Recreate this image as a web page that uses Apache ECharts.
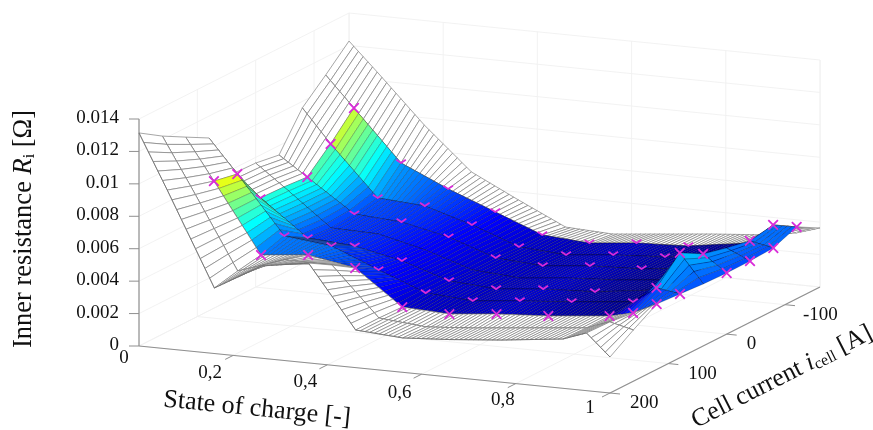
<!DOCTYPE html>
<html><head><meta charset="utf-8">
<style>html,body{margin:0;padding:0;background:#fff}#c{width:873px;height:430px}</style>
<script src="https://cdn.jsdelivr.net/npm/echarts@6/dist/echarts.min.js"></script>
</head><body><div id="c"></div>
<script>
// State of charge nodes, current nodes
const SOC = [0,.06,.16,.26,.36,.46,.56,.66,.77,.9,.95,1];
const CUR = [200,160,120,80,40,0,-40,-80,-120,-160];
// Inner resistance [mOhm] per current row, one value per SOC node
const R_p200 = [13.14,9.79,4.04,5.69,6.16,2.32,2.12,2.31,2.60,3.04,3.56,2.22];
const R_p160 = [12.22,9.31,4.36,5.33,5.31,2.33,2.07,2.29,2.61,2.99,3.51,3.16];
const R_p120 = [11.43,8.89,4.62,4.91,4.40,2.28,2.14,2.43,2.63,3.00,3.34,4.03];
const R_p80  = [10.65,8.60,5.07,4.74,3.55,2.42,2.22,2.51,2.77,3.15,4.16,3.93];
const R_p40  = [7.70,6.40,4.22,4.01,3.38,2.44,2.23,2.52,2.66,3.16,5.59,3.82];
const R_0    = [7.65,6.35,4.11,4.03,3.33,2.39,2.18,2.47,2.67,3.05,4.80,3.77];
const R_m40  = [7.42,6.23,4.24,4.04,3.40,2.40,2.20,2.49,2.62,3.06,4.44,3.78];
const R_m80  = [9.60,7.55,4.51,4.30,3.42,2.36,2.15,2.44,2.64,3.08,4.15,3.86];
const R_m120 = [10.90,9.04,5.94,4.63,3.50,2.37,2.16,2.45,2.59,3.15,4.41,4.43];
const R_m160 = [12.27,10.53,7.55,4.95,3.51,2.13,1.99,2.28,2.60,2.92,3.19,3.64];
const RMAP = [R_p200,R_p160,R_p120,R_p80,R_p40,R_0,R_m40,R_m80,R_m120,R_m160];
// Colour value shift per SOC node
const COLOR_SHIFT = [0,0,-.5,-.6,-.4,.1,.1,0,-.6,-1.3,0,0];
// Measured points: 0 unseen, 1 half hidden by the surface, 2 fully visible (SOC nodes 1..11)
const M_p120 = [2,2,2,2,2,2,2,2,2,2,2];
const M_p80  = [2,1,1,1,1,1,1,1,1,2,2];
const M_p40  = [1,1,1,1,1,1,1,1,0,2,0];
const M_0    = [0,0,0,0,0,0,0,0,0,2,2];
const M_m40  = [2,1,1,1,1,1,1,1,0,0,2];
const M_m80  = [2,1,1,1,1,1,1,1,0,2,2];
const M_m120 = [2,1,1,1,1,1,1,1,0,2,2];
const MARKS = [M_p120,M_p80,M_p40,M_0,M_m40,M_m80,M_m120];
// Axis ticks
const Z_TICKS = [0,.002,.004,.006,.008,.01,.012,.014];
const Z_LABELS = ['0','0.002','0.004','0.006','0.008','0.01','0.012','0.014'];
const S_TICKS = [0,.2,.4,.6,.8,1];
const S_LABELS = ['0','0,2','0,4','0,6','0,8','1'];
const C_TICKS = [200,100,0,-100];
const C_LABELS = ['200','100','0','-100'];

const SOC_STEP = 0.01, C_MAX = 200, C_MIN = -160, Z_MAX = 0.014;
const CLIM = [1.5, 13.2];
const FONT = '"Liberation Serif","Times New Roman",serif';
const S_LABEL_OFFSETS = [[-15,12],[-23,18],[-22,17],[-22,19],[-13,16],[-20,15]];

function project(s,c,z){
  const t=(C_MAX-c)/(C_MAX-C_MIN);
  return [139+471*s+210*t, 346+47*s-106*t-227*z/Z_MAX];
}
function nodeAt(s){ let i=0; while(i<SOC.length-2 && s>SOC[i+1]+1e-9) i++; return i; }
function rAt(s,ci){
  const row=RMAP[ci], i=nodeAt(s);
  const f=(s-SOC[i])/(SOC[i+1]-SOC[i]);
  return (row[i]+(row[i+1]-row[i])*f)/1000;
}
function shiftAt(s){
  const i=nodeAt(s), f=(s-SOC[i])/(SOC[i+1]-SOC[i]);
  return COLOR_SHIFT[i]+(COLOR_SHIFT[i+1]-COLOR_SHIFT[i])*f;
}
function jet(t){
  const k=v=>Math.round(255*Math.max(0,Math.min(1,v)));
  return 'rgb('+k(1.5-Math.abs(4*t-3))+','+k(1.5-Math.abs(4*t-2))+','+k(1.5-Math.abs(4*t-1))+')';
}
// surface quads, back to front: [s0,s1,rowFar,rowNear]
const quads=[];
const nS=Math.round(1/SOC_STEP);
for(let i=0;i<nS;i++){ for(let r=CUR.length-1;r>0;r--){ quads.push([i*SOC_STEP,(i+1)*SOC_STEP,r,r-1]); } }
function renderQuad(params,api){
  const s0=api.value(0),s1=api.value(1),r1=api.value(2),r0=api.value(3);
  const z=[rAt(s0,r1),rAt(s1,r1),rAt(s1,r0),rAt(s0,r0)];
  const pts=[[s0,r1,z[0]],[s1,r1,z[1]],[s1,r0,z[2]],[s0,r0,z[3]]].map(p=>api.coord(project(p[0],CUR[p[1]],p[2])));
  const coloured=s0>=.06-1e-9 && CUR[r0]<=120 && CUR[r1]>=-120;
  const mean=(z[0]+z[1]+z[2]+z[3])/4*1000+shiftAt((s0+s1)/2);
  return {type:'group',children:[
    {type:'polygon',shape:{points:pts},style:{
      fill:coloured?jet((mean-CLIM[0])/(CLIM[1]-CLIM[0])):'#fff',
      stroke:coloured?'rgba(0,0,0,.42)':'#808080',lineWidth:coloured?.5:.7}},
    {type:'line',shape:{x1:pts[2][0],y1:pts[2][1],x2:pts[3][0],y2:pts[3][1]},
      style:{stroke:coloured?'rgba(0,0,30,.55)':'#666',lineWidth:.7}}
  ]};
}
// measured markers
const markers=[];
MARKS.forEach((row,ri)=>row.forEach((k,si)=>{ if(k) markers.push([SOC[si+1],ri+2,k]); }));
function renderMarker(params,api){
  const s=api.value(0),r=api.value(1),k=api.value(2);
  const p=api.coord(project(s,CUR[r],rAt(s,r)));
  const st={stroke:'#d92bd9',lineWidth:1.8,fill:null};
  const a=4.8,h=k===2?4.8:3.2;
  const kids=[{type:'polyline',shape:{points:[[p[0]-a,p[1]-h],[p[0],p[1]],[p[0]+a,p[1]-h]]},style:st}];
  if(k===2) kids.push({type:'polyline',shape:{points:[[p[0]-a,p[1]+h],[p[0],p[1]],[p[0]+a,p[1]+h]]},style:st});
  return {type:'group',children:kids};
}
// faint box grid and axis lines
const gridSegs=[];
const seg=(a,b,kind)=>gridSegs.push([a[0],a[1],a[2],b[0],b[1],b[2],kind]);
Z_TICKS.forEach(z=>{ seg([0,C_MAX,z],[0,C_MIN,z],0); seg([0,C_MIN,z],[1,C_MIN,z],0); });
S_TICKS.forEach(s=>{ seg([s,C_MIN,0],[s,C_MIN,Z_MAX],0); seg([s,C_MAX,0],[s,C_MIN,0],0); });
C_TICKS.concat([C_MIN]).forEach(c=>{ seg([0,c,0],[0,c,Z_MAX],0); seg([0,c,0],[1,c,0],0); });
seg([1,C_MIN,0],[1,C_MIN,Z_MAX],0);
seg([0,C_MAX,0],[0,C_MAX,Z_MAX],1); seg([0,C_MAX,0],[1,C_MAX,0],1); seg([1,C_MAX,0],[1,C_MIN,0],1);
function renderSeg(params,api){
  const a=api.coord(project(api.value(0),api.value(1),api.value(2)));
  const b=api.coord(project(api.value(3),api.value(4),api.value(5)));
  const ax=api.value(6)===1;
  return {type:'line',shape:{x1:a[0],y1:a[1],x2:b[0],y2:b[1]},style:{stroke:ax?'#8f8f8f':'#f0f0f0',lineWidth:ax?1.2:.9}};
}
// ticks and tick labels
const tickItems=[];
Z_TICKS.forEach((z,i)=>tickItems.push(['z',0,C_MAX,z,i]));
S_TICKS.forEach((s,i)=>tickItems.push(['s',s,C_MAX,0,i]));
C_TICKS.forEach((c,i)=>tickItems.push(['c',1,c,0,i]));
function renderTick(params,api){
  const it=tickItems[params.dataIndex];
  const p=api.coord(project(it[1],it[2],it[3]));
  let d,txt,lx,ly,al='center';
  if(it[0]==='z'){ d=[-10,0]; txt=Z_LABELS[it[4]]; lx=p[0]-20; ly=p[1]-1; al='right'; }
  else if(it[0]==='s'){ d=it[4]===0?[0,0]:[-8,4]; txt=S_LABELS[it[4]]; lx=p[0]+S_LABEL_OFFSETS[it[4]][0]; ly=p[1]+S_LABEL_OFFSETS[it[4]][1]; }
  else { d=[10,1]; txt=C_LABELS[it[4]]; lx=p[0]+(txt.length===4?18:20); ly=p[1]+10; al='left'; }
  return {type:'group',children:[
    {type:'line',shape:{x1:p[0],y1:p[1],x2:p[0]+d[0],y2:p[1]+d[1]},style:{stroke:'#8f8f8f',lineWidth:1}},
    {type:'text',style:{text:txt,x:lx,y:ly,align:al,verticalAlign:'middle',font:'19px '+FONT,fill:'#111'}}
  ]};
}
const custom=(data,fn,z)=>({type:'custom',coordinateSystem:'cartesian2d',data:data,renderItem:fn,z:z,clip:false,silent:true,animation:false,progressive:0,encode:{x:0,y:1}});

const chart=echarts.init(document.getElementById('c'),null,{renderer:'canvas'});
chart.setOption({
  animation:false,backgroundColor:'#fff',
  grid:{left:0,right:0,top:0,bottom:0},
  xAxis:{type:'value',min:0,max:873,show:false},
  yAxis:{type:'value',min:0,max:430,inverse:true,show:false},
  series:[
    custom(gridSegs,renderSeg,1),
    custom(tickItems.map((t,i)=>[i,i]),renderTick,2),
    custom(quads,renderQuad,3),
    custom(markers,renderMarker,4)
  ],
  graphic:[
    {type:'text',x:24,y:229,rotation:Math.PI/2,style:{text:'{a|Inner resistance }{b|R}{s|i}{a| [Ω]}',align:'center',verticalAlign:'middle',
      rich:{a:{font:'26.5px '+FONT,fill:'#111'},b:{font:'italic 26.5px '+FONT,fill:'#111'},s:{font:'16px '+FONT,fill:'#111',verticalAlign:'bottom'}}}},
    {type:'text',x:257,y:409,rotation:-0.1,style:{text:'State of charge [-]',align:'center',verticalAlign:'middle',font:'26px '+FONT,fill:'#111'}},
    {type:'text',x:782,y:377,rotation:0.47,style:{text:'{a|Cell current }{b|i}{s|cell}{a| [A]}',align:'center',verticalAlign:'middle',
      rich:{a:{font:'25.5px '+FONT,fill:'#111'},b:{font:'italic 25.5px '+FONT,fill:'#111'},s:{font:'16px '+FONT,fill:'#111',verticalAlign:'bottom'}}}}
  ]
});
</script></body></html>
